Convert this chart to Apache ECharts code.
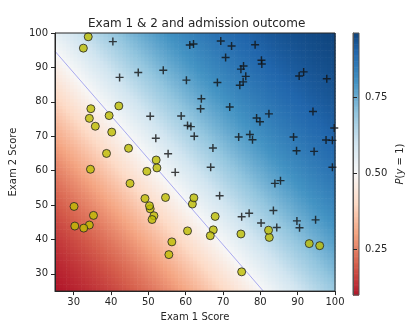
<!DOCTYPE html>
<html>
<head>
<meta charset="utf-8">
<script src="https://cdn.jsdelivr.net/npm/echarts@6/dist/echarts.min.js"></script>
<style>
  html, body { margin: 0; padding: 0; background: #fff; }
  #chart { width: 406px; height: 327px; }
</style>
</head>
<body>
<div id="chart"></div>
<script>
// exam scores [exam1, exam2]
const admitted = [
  [60.2, 86.3], [79.0, 75.3], [61.1, 96.5], [75.0, 46.6], [76.1, 87.4], [84.4, 43.5], [82.3, 76.5], [69.4, 97.7],
  [54.0, 89.2], [69.1, 52.7], [70.7, 92.9], [77.0, 47.6], [89.7, 65.8], [77.9, 69.0], [62.3, 70.0], [80.2, 44.8],
  [61.4, 72.8], [85.4, 57.1], [52.0, 69.4], [64.2, 80.9], [83.9, 56.3], [94.4, 65.6], [77.2, 70.5], [97.8, 86.7],
  [62.1, 96.8], [91.6, 88.7], [79.9, 74.2], [99.3, 61.0], [90.5, 43.4], [97.6, 68.9], [74.2, 69.8], [71.8, 78.5],
  [75.4, 85.8], [40.5, 97.5], [80.3, 92.1], [66.7, 61.0], [64.0, 78.0], [72.3, 96.2], [60.5, 73.1], [58.8, 75.9],
  [99.8, 72.4], [47.3, 88.5], [50.5, 75.8], [88.9, 69.8], [94.8, 45.7], [67.3, 66.6], [57.2, 59.5], [80.4, 91.0],
  [68.5, 85.6], [75.5, 90.4], [78.6, 96.6], [94.1, 77.2], [90.4, 87.5], [74.5, 84.8], [89.8, 45.4], [83.5, 48.4],
  [42.3, 87.1], [99.3, 68.8], [55.3, 64.9], [74.8, 89.5]
];
const notAdmitted = [
  [34.6, 78.0], [30.3, 43.9], [35.8, 72.9], [45.1, 56.3], [95.9, 38.2], [75.0, 30.6], [39.5, 76.0], [67.9, 46.7],
  [67.4, 42.8], [50.5, 48.9], [34.2, 44.2], [93.1, 38.8], [61.8, 50.3], [38.8, 65.0], [52.1, 63.1], [40.2, 71.2],
  [54.6, 52.2], [33.9, 98.9], [74.8, 41.6], [34.2, 75.2], [51.5, 46.9], [82.4, 40.6], [51.0, 45.8], [62.2, 52.1],
  [34.5, 60.4], [50.3, 49.8], [49.6, 59.8], [32.6, 95.6], [35.3, 47.0], [56.3, 39.3], [30.1, 49.6], [44.7, 66.5],
  [66.6, 41.1], [49.1, 51.9], [32.7, 43.3], [60.5, 42.5], [82.2, 42.7], [42.1, 78.8], [52.3, 60.8], [55.5, 35.6]
];
const xTicks = [30, 40, 50, 60, 70, 80, 90, 100];
const yTicks = [30, 40, 50, 60, 70, 80, 90, 100];
const cbarTicks = [0.25, 0.5, 0.75];
// model: logit = t0 + t1*exam1 + t2*exam2
const theta = [-4.09, 0.0406, 0.0325];
// p = 0.5 line, end points
const boundary = [[25, 94.7], [80.8, 25]];
const cbarRange = [0.098, 0.963];
const rdbu = ['#67001f', '#b2182b', '#d6604d', '#f4a582', '#fddbc7', '#f7f7f7',
  '#d1e5f0', '#92c5de', '#4393c3', '#2166ac', '#053061'];

const STEP = 1;
const probGrid = [];
for (let x = 25; x < 100; x += STEP) {
  for (let y = 25; y < 100; y += STEP) {
    const z = theta[0] + theta[1] * (x + STEP / 2) + theta[2] * (y + STEP / 2);
    probGrid.push([x, y, 1 / (1 + Math.exp(-z))]);
  }
}
const CB_STEP = 0.004;
const cbarRamp = [];
for (let v = cbarRange[0]; v < cbarRange[1]; v += CB_STEP) cbarRamp.push([0, v, v]);

const font = 'DejaVu Sans';
const ink = '#262626';

const chart = echarts.init(document.getElementById('chart'));
chart.setOption({
  animation: false,
  backgroundColor: '#fff',
  textStyle: { fontFamily: font },
  title: {
    text: 'Exam 1 & 2 and admission outcome',
    left: 88, top: 18, padding: 0,
    textStyle: { fontFamily: font, fontSize: 12, fontWeight: 'normal', color: ink }
  },
  visualMap: {
    type: 'continuous', show: false, seriesIndex: [0, 4], dimension: 2,
    min: 0, max: 1, inRange: { color: rdbu }
  },
  grid: [
    { left: 55, top: 33, width: 280, height: 262, show: true, z: 10,
      backgroundColor: 'transparent', borderColor: ink, borderWidth: 1 },
    { left: 353, top: 33, width: 13, height: 262, show: true, z: 10,
      backgroundColor: 'transparent', borderColor: '#555', borderWidth: 1 }
  ],
  xAxis: [
    {
      gridIndex: 0, type: 'value', min: 25, max: 100, z: 11,
      name: 'Exam 1 Score', nameLocation: 'middle', nameGap: 20,
      nameTextStyle: { fontSize: 10, color: ink },
      axisLine: { show: true, lineStyle: { color: ink, width: 1 } },
      axisTick: { show: true, length: 4, lineStyle: { color: ink }, customValues: xTicks },
      axisLabel: { fontSize: 10, color: ink, margin: 6, customValues: xTicks },
      splitLine: { show: false }
    },
    { gridIndex: 1, type: 'value', min: 0, max: 1, show: false }
  ],
  yAxis: [
    {
      gridIndex: 0, type: 'value', min: 25, max: 100, z: 11,
      name: 'Exam 2 Score', nameLocation: 'middle', nameGap: 27, nameRotate: 90,
      nameTextStyle: { fontSize: 10, color: ink },
      axisLine: { show: true, lineStyle: { color: ink, width: 1 } },
      axisTick: { show: true, length: 4, lineStyle: { color: ink }, customValues: yTicks },
      axisLabel: { fontSize: 10, color: ink, margin: 7, customValues: yTicks },
      splitLine: { show: false }
    },
    {
      gridIndex: 1, type: 'value', min: cbarRange[0], max: cbarRange[1], position: 'right', z: 11,
      name: '{i|P}({i|y} = 1)', nameLocation: 'middle', nameGap: 36, nameRotate: 90,
      nameTextStyle: { fontSize: 10, color: ink, rich: { i: { fontStyle: 'italic', fontSize: 10, color: ink } } },
      axisLine: { show: true, lineStyle: { color: '#555', width: 1 } },
      axisTick: { show: true, length: 4, lineStyle: { color: ink }, customValues: cbarTicks },
      axisLabel: { fontSize: 10, color: ink, margin: 6, customValues: cbarTicks,
        formatter: v => v.toFixed(2) },
      splitLine: { show: false }
    }
  ],
  series: [
    {
      type: 'custom', xAxisIndex: 0, yAxisIndex: 0, silent: true, z: 1,
      data: probGrid,
      encode: { x: 0, y: 1 },
      renderItem: (params, api) => {
        const x = api.value(0), y = api.value(1);
        const a = api.coord([x, y + STEP]);
        const b = api.coord([x + STEP, y]);
        return {
          type: 'rect',
          shape: { x: a[0], y: a[1], width: b[0] - a[0] + 0.6, height: b[1] - a[1] + 0.6 },
          style: { fill: api.visual('color') }
        };
      },
      clip: true
    },
    {
      type: 'line', xAxisIndex: 0, yAxisIndex: 0, silent: true, z: 3,
      data: boundary, symbol: 'none',
      lineStyle: { color: '#a9a9ee', width: 1 }
    },
    {
      type: 'scatter', xAxisIndex: 0, yAxisIndex: 0, z: 4,
      data: admitted,
      symbol: 'path://M0.41,0H0.59V0.41H1V0.59H0.59V1H0.41V0.59H0V0.41H0.41Z',
      symbolSize: 8,
      itemStyle: { color: '#111' }
    },
    {
      type: 'scatter', xAxisIndex: 0, yAxisIndex: 0, z: 4,
      data: notAdmitted,
      symbol: 'circle', symbolSize: 8,
      itemStyle: { color: '#bdbd00', borderColor: '#222', borderWidth: 1 }
    },
    {
      type: 'custom', xAxisIndex: 1, yAxisIndex: 1, silent: true, z: 1,
      data: cbarRamp,
      encode: { x: 0, y: 1 },
      renderItem: (params, api) => {
        const v = api.value(1);
        const a = api.coord([0, Math.min(v + CB_STEP, cbarRange[1])]);
        const b = api.coord([1, v]);
        return {
          type: 'rect',
          shape: { x: a[0], y: a[1], width: b[0] - a[0], height: b[1] - a[1] + 0.6 },
          style: { fill: api.visual('color') }
        };
      }
    }
  ]
});
</script>
</body>
</html>
